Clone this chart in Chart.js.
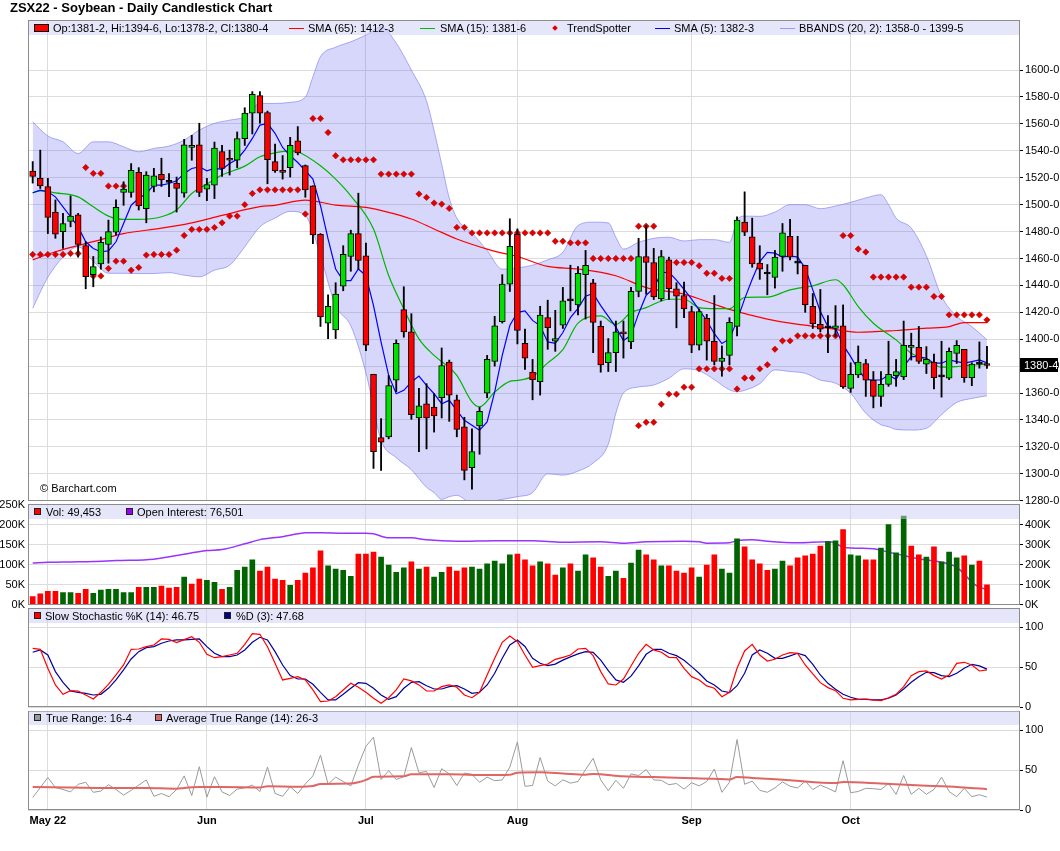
<!DOCTYPE html>
<html><head><meta charset="utf-8">
<script src="https://cdn.jsdelivr.net/npm/chart.js"></script>
<style>
html,body{margin:0;padding:0;background:#fff;}
#wrap{position:relative;width:1060px;height:851px;overflow:hidden;font-family:'Liberation Sans',Arial,sans-serif;background:#fff;}
canvas{position:absolute;left:0;}
.title{position:absolute;left:10px;top:1px;font-weight:bold;font-size:13px;line-height:14px;color:#000;white-space:nowrap;}
.band{position:absolute;left:29px;width:990px;height:14px;background:rgba(205,205,245,0.5);}
.t{position:absolute;font-size:11px;line-height:14px;white-space:nowrap;color:#000;}
.sq{position:absolute;width:5px;height:5px;border:1px solid #222;}
.ln{position:absolute;width:15px;height:1px;}
.dm{position:absolute;width:4px;height:4px;background:#e00000;transform:rotate(45deg);}
.copy{position:absolute;left:40px;top:481px;font-size:11px;line-height:14px;color:#000;}
</style></head>
<body>
<div id="wrap">
  <canvas id="cP" width="1060" height="515" style="top:0px"></canvas>
  <canvas id="cV" width="1060" height="125" style="top:490px"></canvas>
  <canvas id="cS" width="1060" height="125" style="top:596px"></canvas>
  <canvas id="cT" width="1060" height="151" style="top:700px"></canvas>

  <div class="title">ZSX22 - Soybean - Daily Candlestick Chart</div>

  <div class="band" style="top:21px"></div>
  <div style="position:absolute;left:34px;top:24px;width:13px;height:6px;background:#f00;border:1px solid #000"></div>
  <div class="t" style="left:53px;top:21px">Op:1381-2, Hi:1394-6, Lo:1378-2, Cl:1380-4</div>
  <div class="ln" style="left:289px;top:28px;background:#f00"></div>
  <div class="t" style="left:308px;top:21px">SMA (65): 1412-3</div>
  <div class="ln" style="left:420px;top:28px;background:#0b0"></div>
  <div class="t" style="left:440px;top:21px">SMA (15): 1381-6</div>
  <div class="dm" style="left:553px;top:26px"></div>
  <div class="t" style="left:567px;top:21px">TrendSpotter</div>
  <div class="ln" style="left:655px;top:28px;background:#00f"></div>
  <div class="t" style="left:674px;top:21px">SMA (5): 1382-3</div>
  <div class="ln" style="left:780px;top:28px;background:#99f"></div>
  <div class="t" style="left:799px;top:21px">BBANDS (20, 2): 1358-0 - 1399-5</div>
  <div class="copy">© Barchart.com</div>

  <div class="band" style="top:505px"></div>
  <div class="sq" style="left:34px;top:508px;background:#f00"></div>
  <div class="t" style="left:46px;top:505px">Vol: 49,453</div>
  <div class="sq" style="left:126px;top:508px;background:#9900ff"></div>
  <div class="t" style="left:137px;top:505px">Open Interest: 76,501</div>

  <div class="band" style="top:609px"></div>
  <div class="sq" style="left:34px;top:612px;background:#f00"></div>
  <div class="t" style="left:45px;top:609px">Slow Stochastic %K (14): 46.75</div>
  <div class="sq" style="left:224px;top:612px;background:#000080"></div>
  <div class="t" style="left:236px;top:609px">%D (3): 47.68</div>

  <div class="band" style="top:711px"></div>
  <div class="sq" style="left:34px;top:714px;background:#999"></div>
  <div class="t" style="left:46px;top:711px">True Range: 16-4</div>
  <div class="sq" style="left:155px;top:714px;background:#d46a6a"></div>
  <div class="t" style="left:166px;top:711px">Average True Range (14): 26-3</div>
</div>
<script>
// ---------------- DATA ----------------
const monthLabels = ['May 22','Jun','Jul','Aug','Sep','Oct'];
const monthStartIdx = [2,23,44,64,87,108];
const priceTicks = [1280,1300,1320,1340,1360,1380,1400,1420,1440,1460,1480,1500,1520,1540,1560,1580,1600];
const volTicksK = [0,50,100,150,200,250];
const oiTicksK = [0,100,200,300,400];
const pctTicks = [0,50,100];

const opens = [1525,1519.5,1513.5,1494.5,1480,1487.5,1492.5,1469.5,1448,1456,
1470.5,1479.5,1509,1509,1524,1497,1513.5,1522.5,1516.5,1516,
1508.5,1542.5,1544.5,1511.5,1514.5,1539.5,1534.5,1533,1549,1568,
1581,1568.5,1532,1525.5,1527.5,1547.5,1529,1514,1478,1412,
1407,1439.5,1461.5,1478.5,1462,1374,1327,1327.5,1369.5,1422,
1405.5,1341.5,1352,1349.5,1356.5,1383,1355,1335,1304.5,1335.5,
1360,1383.5,1413,1441,1478,1397,1375.5,1368.5,1416,1398.5,
1410.5,1428.5,1425.5,1448,1442,1409.5,1382.5,1390,1405.5,1398,
1435.5,1461.5,1457,1430,1459,1437.5,1432.5,1420.5,1395.5,1415.5,
1398.5,1383.5,1388,1409.5,1487,1476,1456.5,1448.5,1446,1461.5,
1476.5,1456.5,1455,1424.5,1411,1408.5,1408,1410,1363.5,1373.5,
1382,1369.5,1357.5,1366.5,1373,1372,1394,1394,1381.5,1383,
1372,1371,1389.5,1392.5,1371.5,1381.5,1381.25];
const highs = [1532,1540.5,1519.5,1503.5,1493.5,1506.5,1493.5,1472.5,1461.5,1476,
1488.5,1503.5,1517,1530.5,1527.5,1524.5,1527,1534.5,1523,1520.5,
1548.5,1551.5,1560.5,1519.5,1546.5,1544,1540.5,1554,1572,1584,
1584,1569.5,1545,1536.5,1550,1558,1529.5,1514,1478.5,1433,
1442,1469.5,1481,1508.5,1471.5,1374,1341,1373,1399.5,1439,
1419,1363.5,1367,1359.5,1393.5,1384.5,1358.5,1342,1333.5,1349.5,
1388,1417,1448,1489.5,1482,1407.5,1385,1424.5,1429,1421.5,
1438.5,1455,1454,1466,1444.5,1413.5,1400.5,1413.5,1413.5,1438.5,
1475,1484.5,1467.5,1466,1461,1442,1442.5,1424.5,1422.5,1418.5,
1432.5,1395,1416,1491,1509.5,1490,1469.5,1455.5,1466,1486,
1489,1476.5,1455,1434,1437,1417.5,1425,1425.5,1382.5,1395,
1385,1376,1376,1398.5,1385,1413.5,1404.5,1409.5,1394.5,1389,
1398.5,1393.5,1399,1392.5,1382.5,1398,1394.75];
const lows = [1516,1512,1478.5,1475,1467.5,1483.5,1461,1437.5,1439,1452,
1456.5,1477.5,1499.5,1505.5,1496,1486.5,1509.5,1513.5,1506,1494.5,
1505.5,1533,1506,1503,1504.5,1521,1522,1527.5,1544,1552.5,
1560.5,1515.5,1524,1519,1520.5,1537,1505.5,1471,1409.5,1400.5,
1400.5,1436,1450.5,1452,1391.5,1304,1302.5,1326,1361,1401.5,
1340.5,1316.5,1318.5,1331,1341.5,1339,1327.5,1295.5,1288.5,1314.5,
1356.5,1380,1412,1435.5,1396.5,1377.5,1355,1358.5,1392.5,1391,
1408,1421,1418,1415,1390,1375.5,1376,1376,1386,1393,
1431.5,1433.5,1429.5,1428.5,1429.5,1408.5,1416,1390,1392,1384.5,
1381,1372.5,1381,1402.5,1477,1453.5,1444.5,1433,1438,1450.5,
1459,1448.5,1420,1408,1405.5,1390,1402,1363.5,1360.5,1371.5,
1357.5,1349,1350,1365,1365,1370,1384.5,1382,1374.5,1363,
1357,1370,1382,1368,1365.5,1378.5,1378.25];
const closes = [1521,1514,1490.5,1478,1486,1491.5,1470.5,1446.5,1454,1472,
1480,1498,1511.5,1525.5,1499,1522,1521.5,1518.5,1516.5,1512,
1544.5,1544,1509,1515,1542,1527,1533,1549,1568,1582,
1568,1533.5,1525,1524,1544,1538.5,1511,1477.5,1416.5,1424.5,
1433.5,1463,1478.5,1458.5,1395.5,1316.5,1323.5,1365.5,1397,1405.5,
1344,1350.5,1341.5,1343,1380.5,1358.5,1333,1302.5,1316.5,1346.5,
1385,1410,1441,1469,1406.5,1386,1370,1418,1408.5,1400.5,
1428.5,1428.5,1449,1455,1412.5,1381,1390,1405.5,1404,1435.5,
1461.5,1457,1431.5,1461.5,1437.5,1432,1422.5,1395.5,1420.5,1398.5,
1383.5,1386,1412.5,1488.5,1479.5,1456,1452,1448.5,1461,1479,
1461,1456.5,1425.5,1411.5,1407.5,1408.5,1410,1364.5,1374,1383,
1369.5,1357.5,1366.5,1374,1376,1395.5,1395.5,1383.5,1385,1371.5,
1372,1391,1395.5,1371.5,1381.5,1381.5,1380.5];

const sma5 = [1508.8,1510.8,1509.6,1505.8,1498.4,1491,1483.5,1472.4,1467.4,1465,
1465.7,1472.4,1486,1499.6,1504.6,1508.3,1514.5,1514.5,1515.7,1517.7,
1523.2,1526.9,1528.1,1525.2,1526.9,1526.2,1530.6,1533.8,1540.5,1549.2,
1559.1,1560.4,1553,1542.5,1536.3,1531.3,1525.2,1519,1499.2,1474.5,
1452.2,1443.6,1443.6,1452.2,1447.3,1425,1397.9,1373.1,1359.5,1362,
1368.2,1372.6,1365.7,1359.5,1352.1,1354.6,1347.2,1339.8,1336.1,1332.4,
1338.5,1360.8,1388,1410.2,1420,1421,1414,1410,1398,1397,
1405,1416,1423,1432,1434,1425,1417,1409,1399,1403,
1419,1432.7,1438,1449.4,1449.8,1443.9,1437,1429.8,1421.6,1413.8,
1404.1,1396.8,1400.2,1413.8,1430,1444.5,1457.7,1464.5,1464,1461,
1462,1461,1452.9,1436.7,1420.6,1409.4,1408.2,1395.8,1387.1,1377.2,
1370.2,1369.7,1369.7,1373.5,1370.2,1379.7,1387.1,1387.1,1385.9,1382.2,
1382.2,1384.6,1383.4,1382.2,1383.4,1384.6,1382.4];

const sma15Idx = [0,1,3,6,8,10,12,14,17,19,21,23,25,28,30,32,34,35,38,40,42,45,47,49,51,53,56,58,59,61,63,64,66,68,70,72,75,77,79,81,84,86,88,90,92,94,97,100,103,106,107,109,111,114,116,118,120,122,126];
const sma15Val = [1508.8,1510.3,1508.8,1505.8,1498.4,1491.5,1489,1489,1491,1496,1508.3,1515.3,1522,1528.6,1535.6,1538.5,1540,1539.3,1528.9,1519,1506.6,1481.9,1447.3,1422.6,1400.3,1388,1373.1,1353.4,1349.7,1360.8,1368.7,1369.4,1372.4,1382.4,1392.3,1412,1417.3,1411,1419.8,1423.5,1429.7,1429.7,1423.5,1422.7,1422.7,1431,1431.3,1436.7,1439.7,1444.2,1440.5,1424.3,1411.9,1399.5,1389.6,1384.6,1379.2,1379.7,1381.75];

const sma65Idx = [0,3,8,12,17,21,25,30,32,36,40,44,47,50,53,56,60,62,64,68,72,77,81,86,90,92,97,100,105,109,114,118,121,123,126];
const sma65Val = [1459,1465,1472.5,1478.5,1482.5,1486.5,1492,1498.5,1499.5,1503.4,1499.7,1498,1494.3,1489.3,1481.9,1474.5,1467,1464,1461.5,1454.1,1452.2,1447.2,1438.4,1433.5,1426,1422.2,1415,1411.9,1408.2,1405.2,1406.5,1408.2,1409.4,1412.4,1412.4];

const bbIdx = [0,2,4,6,8,10,12,14,16,18,20,22,24,26,28,30,32,34,36,37,38,40,42,44,46,48,50,52,53,54,55,56,58,60,62,64,66,68,70,72,74,76,77,78,80,82,84,86,88,90,92,93,94,96,98,100,102,104,106,108,110,112,113,114,116,118,120,122,124,126];
const bbUpper = [1561.6,1551,1546.7,1538,1546.7,1546.7,1543,1539.3,1541.8,1543.5,
1548,1555.4,1560.4,1562.8,1565.3,1575.2,1575.2,1576,1580,1595,
1610,1617,1621,1626,1632,1620,1600,1577,1555,1530,
1505,1490,1479,1466,1452,1453,1455,1459,1464.6,1484.5,
1487,1486.5,1475.8,1467,1472,1475,1475.8,1473,1474,1474,
1472,1488.3,1491.5,1491.3,1494.5,1500,1500,1497,1499,1501.7,
1505,1507.4,1500,1490,1482.6,1462,1432,1417,1409.4,1399.6];
const bbLower = [1423,1446,1461,1468.7,1458,1449,1449,1448.8,1448.8,1449.5,
1447.6,1446.4,1451.3,1455,1468.7,1483.5,1490,1495,1492,1480,
1462,1425,1410,1375,1325,1312,1303,1290,1286,1281,
1283,1284,1278,1279,1281,1283,1286,1300,1299,1302,
1308,1322,1345,1360,1364.5,1366,1371,1378,1376.5,1370,
1362.4,1361,1362,1367,1377.2,1376,1374.7,1369.7,1367.3,1359.8,
1345,1336.5,1335,1333,1332.5,1333.8,1344,1353,1356,1358];

const tsIdx = [0,1,2,3,4,5,6,7,8,8,
9,9,10,10,11,11,12,12,13,14,
15,16,17,18,19,20,21,22,23,24,
25,26,27,28,29,30,31,32,33,34,
35,36,37,38,39,40,41,42,43,44,
45,46,47,48,49,50,51,52,53,54,
55,56,57,58,59,60,61,62,63,64,
65,66,67,68,69,70,71,72,73,74,
75,76,77,78,79,80,80,81,81,82,
82,83,84,84,85,85,86,86,87,87,
88,88,89,89,90,90,91,91,92,92,
93,94,95,96,97,98,99,100,101,102,
103,104,105,106,107,108,109,110,111,112,
113,114,115,116,117,118,119,120,121,122,
123,124,125,126];
const tsVal = [1463,1463,1463,1463,1463,1463.7,1463.7,1527.6,1523.2,1447,
1523.2,1447,1513.8,1452.6,1513.8,1458,1513.8,1458,1451.3,1453.3,
1462.5,1463,1463,1463,1466.2,1477.1,1481.6,1481.6,1481.6,1483,
1486.5,1491.5,1491.5,1500,1508.3,1511,1511,1511,1511,1511,
1511,1493,1564,1564,1553.6,1536.3,1533.3,1533.3,1533.3,1533.3,
1533.3,1522.7,1522.7,1522.7,1522.7,1522.7,1507.9,1505.4,1501.2,1500.4,
1497.2,1483.1,1483.1,1479,1479,1479,1479,1479,1479,1479,
1479,1479,1479,1479,1472.8,1472.8,1471.6,1471.6,1471.6,1460,
1460,1460,1460,1460,1460,1484,1335.8,1484,1338.3,1484,
1338.3,1351.7,1457,1359.2,1457,1359.2,1457,1364.4,1457,1364.4,
1454.6,1378,1449,1378,1449,1378,1445.2,1378,1445.2,1378,
1363,1371.2,1371.2,1378,1381,1392.6,1398.8,1398.8,1402.5,1402.5,
1402.5,1402.5,1402.5,1402.5,1477,1477,1467,1464.8,1446.2,1446.2,
1446.2,1446.2,1446.2,1438.7,1438.7,1438.7,1431.8,1431.8,1418.1,1418.1,
1418.1,1418.1,1418.1,1414.4];

const volumeK = [20,27,33,33,30,30,28,38,28,36,
38,38,30,30,43,43,43,46,41,43,
69,51,64,61,56,38,43,86,94,112,
84,94,64,61,48,61,79,92,135,97,
89,86,71,127,127,132,119,99,81,92,
107,89,94,69,81,94,84,92,94,89,
102,109,102,125,127,112,97,107,102,74,
92,102,84,125,117,94,71,84,66,104,
137,125,112,97,97,84,79,92,69,99,
125,89,79,165,145,112,102,86,89,109,
97,117,122,127,147,158,160,188,125,122,
112,112,142,201,130,222,147,125,119,145,
107,132,117,122,99,109,49.453];
const volDir = 'rrrrggrrgg'+'ggggrggrrr'+'grrggrgggg'+'rrrrgrrrrg'+'gggrrrgggg'+'rgrggrrrgg'+'ggggrrrgrr'+'grggrrggrg'+'grrgrrrrgr'+'rgggrrrrgg'+'rrrrrggrgg'+'rrggggrrgr'+'gggrgrr';

const oiIdx = [0,2,5,8,11,16,19,23,25,28,30,33,35,36,38,41,44,45,47,50,52,56,61,66,70,75,78,81,86,88,89,92,93,95,97,101,105,106,107,111,113,115,117,120,122,123,124,125,126];
const oiK = [209,212,214,216,221,228,246,271,276,305,326,341,355,360,360,358,358,355,335,335,325,318,321,321,313,315,308,315,318,315,308,310,321,326,318,310,315,308,288,280,263,246,229,213,187,154,112,87,76.5];

const stochK = [73.75,72.5,48.75,27.9,16.25,20.8,20.4,15.4,10.4,18.75,
28.75,40.4,52.9,72.5,72.9,75.8,77.9,85.4,85,80.8,
84.6,88.3,81.25,66.25,62,63.3,65.4,67.5,78.75,92,
91.25,75.8,55,34.2,36.25,38.3,34.2,21.7,7.1,7.9,
13.3,21.7,30,25,18.75,11.25,5,12,21.7,35.4,
33,28,20.4,20.4,25.8,28,25,15.4,12,18.75,
40.4,61.25,81.25,89,82,65.4,50,52,54,60,
62.5,65.4,72.9,73.75,64.6,44.6,29.2,27.9,35.4,51.7,
67.5,78.75,71.7,68.75,62.5,62,48.75,38.3,34.2,26.7,
23.75,13.3,18.75,48.75,70.4,78.75,65.4,57.9,60,65.4,
68.3,67.5,52.9,41.7,30.8,24.6,20.8,11.25,9.2,10,
10.4,9.2,8.3,12,16.25,25.8,39.6,44.6,45.4,39.6,
35.4,40.4,55,56.25,52.9,45.4,46.75];
const stochD = [68.75,71.7,65.4,44.6,31.25,20.4,18.75,17.5,15.4,16.25,
23.75,34.2,46.7,60.4,69.6,74.6,75.8,80,82.9,84.2,
84.2,85,85.4,75.8,67.5,63.3,63.3,65.4,71.7,81.25,
87.5,84.2,69.6,52.9,39.6,35.4,35.4,28.75,18.75,9.2,
9.2,16.25,23.75,30.8,30,23.75,15.4,10,13.3,23.75,
31.25,32,27,22.9,22.9,25.8,27,22.9,17.5,18.75,
27.9,42.5,61.25,77.9,84.2,76,61.25,55,52,54,
59,63,66.7,69.6,68.75,59,45.8,34.2,31.25,39,
51.7,66.25,72.5,72.5,67.5,64.6,58.75,50.8,42.5,32.9,
27.9,20.4,18.3,27,42.5,65.4,71.7,67.5,61.25,61.25,
64.2,67.5,64.6,53.75,40.4,30,22.5,16.25,12.5,10,
10,9.2,9.2,11.25,15.4,22.9,31.25,38.3,43.75,43.3,
39.6,38.3,42.5,48.75,53.75,51.7,47.68];

const trueRange = [16,28.5,41,28.5,26,23,32.5,35,22.5,24,
32,26,19,25,31.5,38,17.5,21,17,26,
43,18.5,54.5,16.5,42,23,18.5,26.5,28,31.5,
23.5,54,21,17.5,29.5,21,33,43,69,32.5,
41.5,36,30.5,56.5,80,91.5,38.5,49.5,38.5,42,
78.5,47,48.5,28.5,52,45.5,31,46.5,45,35,
41.5,37,38,54,85.5,30,31,66,36.5,30.5,
38,34,36,51,65,38,24.5,37.5,27.5,45.5,
43.5,51,38,37.5,32,33.5,26.5,34.5,30.5,36,
51.5,22.5,35,88.5,32.5,36.5,25,22.5,28,35.5,
30,28,36.5,26,31.5,27.5,23,62,22,23.5,
27.5,27,26,33.5,20,43.5,20,27.5,20,26,
41.5,23.5,17,27.5,17,19.5,16.5];
const atrIdx = [0,5,10,15,19,20,22,25,30,31,35,37,38,42,43,44,45,49,50,55,60,63,64,67,70,73,74,78,82,86,90,92,93,95,100,106,107,112,116,120,123,126];
const atrVal = [29,28.5,28,28,27,28,29,29,28.5,30,29.5,30.5,33,33.5,35,38,42,42.5,45,45,44,44.5,47,47.5,46,44.5,45.5,42.5,41.5,40.5,39.5,38.5,41.5,40.5,37.5,34,35.5,33.5,31.5,30,28.5,26.4];

// ---------------- HELPERS ----------------
const X_MIN = -0.62, X_MAX = 130.36;
const pts = (idx, vals) => idx.map((x, k) => ({x, y: vals[k]}));
const seq = vals => vals.map((y, x) => ({x, y}));
const fmt8 = v => { const w = Math.floor(v); return w + '-' + Math.round((v - w) * 8); };
const GRID = '#dcdcdc';

Chart.defaults.font.family = "'Liberation Sans', Arial, sans-serif";
Chart.defaults.font.size = 11;
Chart.defaults.color = '#000';

function xAxis(show) {
  return {
    type: 'linear', min: X_MIN, max: X_MAX, offset: false,
    afterBuildTicks: s => { s.ticks = monthStartIdx.map(v => ({value: v})); },
    afterFit: s => { s.height = show ? 20 : 0; },
    ticks: {display: show, autoSkip: false, maxRotation: 0, padding: 4, color: '#000',
      font: {size: 11, weight: 'bold'},
      callback: v => monthLabels[monthStartIdx.indexOf(v)]},
    grid: {color: GRID, drawTicks: false, offset: false},
    border: {display: false}
  };
}
function rightAxis(min, max, ticks, fmt, extra) {
  return Object.assign({
    position: 'right', min, max, beginAtZero: false,
    afterBuildTicks: s => { s.ticks = ticks.map(v => ({value: v})); },
    afterFit: s => { s.width = 40; },
    ticks: {callback: fmt, padding: 2, color: '#000', font: {size: 11}},
    grid: {color: GRID, tickColor: '#000', tickLength: 3},
    border: {display: false}
  }, extra || {});
}
const framePlugin = {
  id: 'frame',
  afterDraw(chart) {
    const {ctx, chartArea: a} = chart;
    const l = Math.round(a.left), t = Math.round(a.top), r = Math.round(a.right), b = Math.round(a.bottom);
    ctx.save();
    ctx.strokeStyle = '#8c8c8c'; ctx.lineWidth = 1;
    ctx.strokeRect(l + 0.5, t + 0.5, r - l - 1, b - t - 1);
    ctx.restore();
  }
};
const lastPricePlugin = {
  id: 'lastPrice',
  afterDraw(chart) {
    const {ctx, chartArea: a, scales: {y}} = chart;
    const last = closes[closes.length - 1];
    const py = Math.round(y.getPixelForValue(last));
    ctx.save();
    ctx.fillStyle = '#000';
    ctx.fillRect(a.right, py - 7, 38, 14);
    ctx.fillStyle = '#fff';
    ctx.font = "11px 'Liberation Sans', Arial, sans-serif";
    ctx.textBaseline = 'middle'; ctx.textAlign = 'left';
    ctx.fillText(fmt8(last), a.right + 4, py + 0.5);
    ctx.restore();
  }
};
const base = {responsive: false, animation: false, events: [],
  plugins: {legend: {display: false}, tooltip: {enabled: false}}};

// ---------------- PRICE ----------------
const bodyColors = opens.map((o, i) => closes[i] > o ? '#00e000' : (closes[i] < o ? '#ff0000' : '#000'));
new Chart(document.getElementById('cP'), {
  type: 'bar',
  data: {datasets: [
    {type: 'line', data: pts(bbIdx, bbUpper), borderColor: 'rgba(120,120,240,0.6)', borderWidth: 1,
     pointRadius: 0, fill: '+1', backgroundColor: 'rgba(110,110,240,0.28)', cubicInterpolationMode: 'monotone', order: 10},
    {type: 'line', data: pts(bbIdx, bbLower), borderColor: 'rgba(120,120,240,0.6)', borderWidth: 1,
     pointRadius: 0, fill: false, cubicInterpolationMode: 'monotone', order: 10},
    {type: 'line', data: pts(sma65Idx, sma65Val), borderColor: '#ff0000', borderWidth: 1.2, pointRadius: 0, cubicInterpolationMode: 'monotone', order: 8},
    {type: 'line', data: pts(sma15Idx, sma15Val), borderColor: '#00b400', borderWidth: 1.2, pointRadius: 0, cubicInterpolationMode: 'monotone', order: 7},
    {type: 'line', data: seq(sma5), borderColor: '#0000ff', borderWidth: 1.2, pointRadius: 0, tension: 0, order: 6},
    {type: 'line', data: pts(tsIdx, tsVal), showLine: false, pointStyle: 'rectRot', pointRadius: 3.2,
     pointBackgroundColor: '#e00000', pointBorderColor: '#a00000', pointBorderWidth: 0.5, order: 5},
    {type: 'bar', data: opens.map((o, i) => ({x: i, y: [lows[i], highs[i]]})), backgroundColor: '#000',
     barThickness: 1.2, grouped: false, borderWidth: 0, order: 4},
    {type: 'bar', data: opens.map((o, i) => ({x: i, y: [o, closes[i]]})), backgroundColor: bodyColors,
     borderColor: '#000', borderWidth: 1, borderSkipped: false, barThickness: 6, grouped: false, minBarLength: 2, order: 3}
  ]},
  options: Object.assign({}, base, {
    layout: {padding: {left: 28, right: 0, top: 20, bottom: 14}},
    scales: {x: xAxis(false), y: rightAxis(1279.8, 1637.2, priceTicks, v => fmt8(v))}
  }),
  plugins: [framePlugin, lastPricePlugin]
});

// ---------------- VOLUME ----------------
new Chart(document.getElementById('cV'), {
  type: 'bar',
  data: {datasets: [
    {type: 'bar', data: seq(volumeK), yAxisID: 'yL', backgroundColor: volumeK.map((v, i) => volDir[i] === 'g' ? '#006400' : '#ff0000'),
     barThickness: 5, grouped: false, borderWidth: 0, order: 1},
    {type: 'line', data: pts(oiIdx, oiK), yAxisID: 'yR', borderColor: '#9933ff', borderWidth: 1.5, pointRadius: 0,
     cubicInterpolationMode: 'monotone', order: 2}
  ]},
  options: Object.assign({}, base, {
    layout: {padding: {left: 0, right: 0, top: 13.5, bottom: 10.5}},
    scales: {
      x: xAxis(false),
      yL: {position: 'left', min: 0, max: 253.8, beginAtZero: false,
        afterBuildTicks: s => { s.ticks = volTicksK.map(v => ({value: v})); },
        afterFit: s => { s.width = 28; },
        ticks: {callback: v => v + 'K', padding: 3, color: '#000', font: {size: 11}},
        grid: {display: false, drawTicks: false}, border: {display: false}},
      yR: rightAxis(0, 507.6, oiTicksK, v => v + 'K')
    }
  }),
  plugins: [framePlugin]
});

// ---------------- STOCHASTIC ----------------
new Chart(document.getElementById('cS'), {
  type: 'line',
  data: {datasets: [
    {data: seq(stochK), borderColor: '#ff0000', borderWidth: 1.2, pointRadius: 0, tension: 0, order: 1},
    {data: seq(stochD), borderColor: '#000099', borderWidth: 1.2, pointRadius: 0, tension: 0, order: 2}
  ]},
  options: Object.assign({}, base, {
    layout: {padding: {left: 28, right: 0, top: 11.7, bottom: 13.7}},
    scales: {x: xAxis(false), y: rightAxis(0, 124.5, pctTicks, v => String(v))}
  }),
  plugins: [framePlugin]
});

// ---------------- TRUE RANGE ----------------
new Chart(document.getElementById('cT'), {
  type: 'line',
  data: {datasets: [
    {data: seq(trueRange), borderColor: '#9a9a9a', borderWidth: 1, pointRadius: 0, tension: 0, order: 2},
    {data: pts(atrIdx, atrVal), borderColor: '#e06666', borderWidth: 2, pointRadius: 0, cubicInterpolationMode: 'monotone', order: 1}
  ]},
  options: Object.assign({}, base, {
    layout: {padding: {left: 28, right: 0, top: 10.5, bottom: 20.7}},
    scales: {x: xAxis(true), y: rightAxis(0, 124.75, pctTicks, v => String(v))}
  }),
  plugins: [framePlugin]
});
</script>
</body></html>
